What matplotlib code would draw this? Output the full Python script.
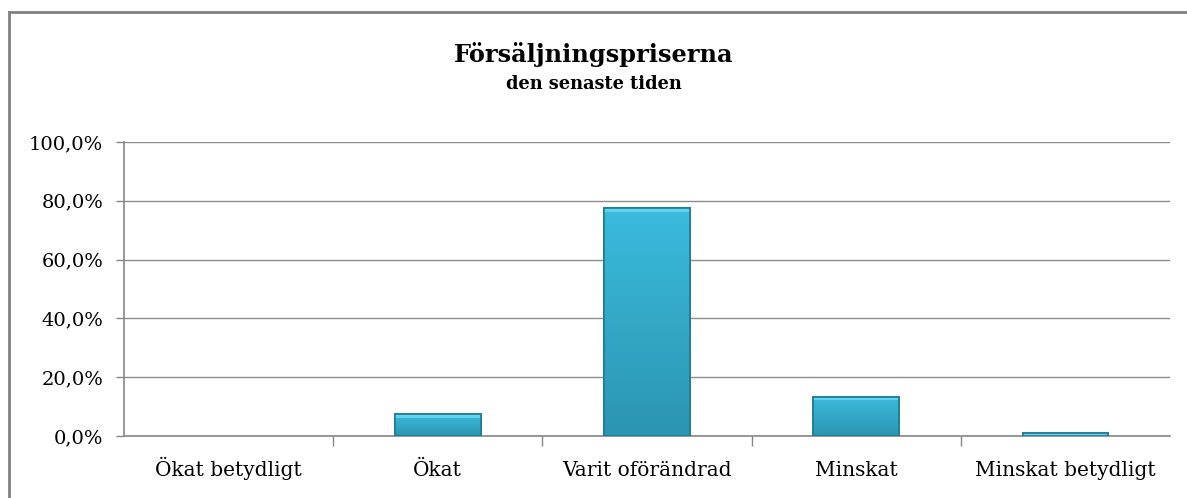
import numpy as np
import matplotlib.pyplot as plt
from matplotlib.lines import Line2D
from matplotlib.colors import LinearSegmentedColormap
from matplotlib.ticker import FuncFormatter, FixedLocator

# data
categories = ["Ökat betydligt", "Ökat", "Varit oförändrad", "Minskat", "Minskat betydligt"]
values = [0.0, 7.4, 77.4, 13.3, 1.0]
y_ticks = [0, 20, 40, 60, 80, 100]

plt.rcParams["font.family"] = ["DejaVu Serif"]

fig = plt.figure(figsize=(11.87, 4.98), dpi=100)
ax = fig.add_axes([124 / 1187, 1 - 436 / 498, 1046 / 1187, 294 / 498])

x = np.arange(len(categories))
edges = ["#1f7a93" if v > 0 else "none" for v in values]
bars = ax.bar(x, values, width=0.41, color="#33aac8", edgecolor=edges,
              linewidth=1.2, zorder=3)

# vertical gradient fill, clipped to each bar
cmap = LinearSegmentedColormap.from_list("bevel", ["#2b95b2", "#3bbbdc"])
grad = np.linspace(0, 1, 256).reshape(-1, 1)
for b in bars:
    if b.get_height() <= 0:
        continue
    x0, y0 = b.get_x(), b.get_y()
    im = ax.imshow(grad, cmap=cmap, origin="lower", aspect="auto", zorder=3.5,
                   extent=[x0, x0 + b.get_width(), y0, y0 + b.get_height()])
    im.set_clip_path(b)
# light top bevel
ax.bar(x, [min(v, 1.2) for v in values], bottom=[max(v - 1.2, 0) for v in values],
       width=0.41, color="#62d3ec", linewidth=0, zorder=4)
# redraw outlines on top
ax.bar(x, values, width=0.41, color="none", edgecolor=edges, linewidth=1.2, zorder=5)

ax.set_xlim(-0.5, len(categories) - 0.5)
ax.set_ylim(0, 100)
ax.set_yticks(y_ticks)
ax.yaxis.set_major_formatter(FuncFormatter(lambda v, p: f"{v:.1f}%".replace(".", ",")))
ax.grid(axis="y", color="#8c8c8c", linewidth=1, zorder=0)

ax.set_xticks(x)
ax.set_xticklabels(categories, va="baseline")
ax.xaxis.set_minor_locator(FixedLocator(x[:-1] + 0.5))
ax.tick_params(axis="x", which="major", length=0, labelsize=14.5, pad=29)
ax.tick_params(axis="x", which="minor", length=7, color="#868686", width=1)
ax.tick_params(axis="y", length=6, color="#868686", width=1, labelsize=14, pad=9)

for s in ["top", "right"]:
    ax.spines[s].set_visible(False)
for s in ["left", "bottom"]:
    ax.spines[s].set_color("#868686")
    ax.spines[s].set_linewidth(1.2)

fig.text(0.5, 1 - 62 / 498, "Försäljningspriserna", ha="center", va="baseline",
         fontsize=17.3, fontweight="bold")
fig.text(0.5, 1 - 89 / 498, "den senaste tiden", ha="center", va="baseline",
         fontsize=12.8, fontweight="bold")

# outer chart border (left and top visible)
fig.add_artist(Line2D([8.5 / 1187, 8.5 / 1187], [0, 1 - 12 / 498], color="#808080",
                      linewidth=2, transform=fig.transFigure))
fig.add_artist(Line2D([8.5 / 1187, 1], [1 - 12 / 498, 1 - 12 / 498], color="#808080",
                      linewidth=2, transform=fig.transFigure))

fig.savefig("out.png", dpi=100)
